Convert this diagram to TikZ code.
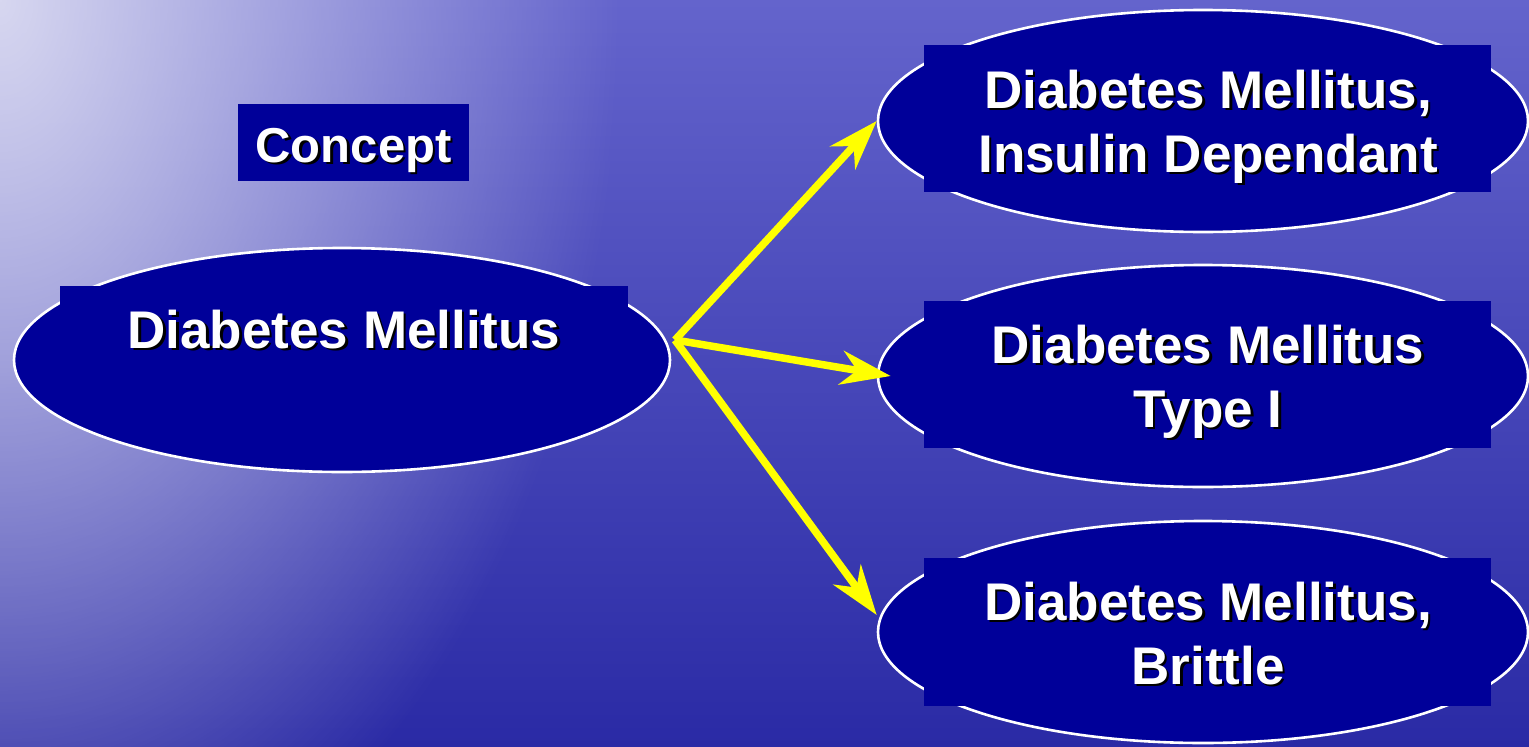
\documentclass[tikz,border=0pt]{standalone}
\usepackage{fontspec}
\setmainfont{Liberation Sans}
\usetikzlibrary{shapes.geometric,arrows.meta,fadings}
\definecolor{bgtop}{RGB}{100,100,204}
\definecolor{bgbot}{RGB}{42,42,165}
\definecolor{glowcol}{RGB}{215,215,240}
\definecolor{navy}{RGB}{0,0,153}
\definecolor{arrowyellow}{RGB}{255,255,0}
\tikzfading[name=glowfade, inner color=transparent!0, outer color=transparent!100]
\tikzset{
  oval/.style={ellipse, draw=white, line width=2.6pt, fill=navy, inner sep=0pt},
  labelbox/.style={rectangle, fill=navy, inner sep=0pt},
  bigfont/.style={font=\bfseries\fontsize{53}{63}\selectfont},
  conceptfont/.style={font=\bfseries\fontsize{49}{58}\selectfont},
  whitetxt/.style={text=white, inner sep=0pt, anchor=base},
  shadowtxt/.style={text=black, inner sep=0pt, anchor=base},
  link/.style={draw=arrowyellow, line width=7.5pt,
    -{Stealth[length=50pt, width=34pt, inset=16pt]}},
}
% name, x, y (baseline), style, text
\newcommand\shline[5]{%
  \node[shadowtxt, #4] at (#2+2.5,#3+2.5) {#5};
  \node[whitetxt, #4] (#1) at (#2,#3) {#5};
}
\begin{document}
\begin{tikzpicture}[x=1pt,y=-1pt]
\useasboundingbox (0,0) rectangle (1529,747);
\begin{scope}
  \clip (0,0) rectangle (1529,747);
  \shade[top color=bgtop, bottom color=bgbot] (0,0) rectangle (1529,747);
  \fill[glowcol, path fading=glowfade] (0,0) ellipse [x radius=620pt, y radius=950pt];
\end{scope}

% concept label
\node[labelbox, minimum width=231pt, minimum height=77pt] (conceptbox) at (353.5,142.5) {};
\shline{concepttext}{353.5}{162}{conceptfont}{Concept}

% source ellipse
\node[oval, minimum width=656pt, minimum height=224pt] (src) at (342,360) {};
\node[labelbox, minimum width=568pt, minimum height=90pt] (srcbox) at (344,331) {};
\shline{srctext}{344}{348}{bigfont}{Diabetes Mellitus}

% target ellipses
\node[oval, minimum width=650pt, minimum height=222pt] (r1) at (1203,121) {};
\node[labelbox, minimum width=567pt, minimum height=147pt] (r1box) at (1207.5,118.5) {};
\shline{r1a}{1208}{108}{bigfont}{Diabetes Mellitus,}
\shline{r1b}{1208}{172}{bigfont}{Insulin Dependant}

\node[oval, minimum width=650pt, minimum height=222pt] (r2) at (1203,376) {};
\node[labelbox, minimum width=567pt, minimum height=147pt] (r2box) at (1207.5,374.5) {};
\shline{r2a}{1208}{363}{bigfont}{Diabetes Mellitus}
\shline{r2b}{1208}{427}{bigfont}{Type I}

\node[oval, minimum width=650pt, minimum height=222pt] (r3) at (1203,632) {};
\node[labelbox, minimum width=567pt, minimum height=148pt] (r3box) at (1207.5,631.5) {};
\shline{r3a}{1208}{620}{bigfont}{Diabetes Mellitus,}
\shline{r3b}{1208}{684}{bigfont}{Brittle}

% connectors
\coordinate (hub) at (675,340);
\draw[link] (hub) -- (r1.west);
\draw[link] (hub) -- ([xshift=14pt]r2.west);
\draw[link] (hub) -- ([yshift=17pt]r3.west);
\end{tikzpicture}
\end{document}
